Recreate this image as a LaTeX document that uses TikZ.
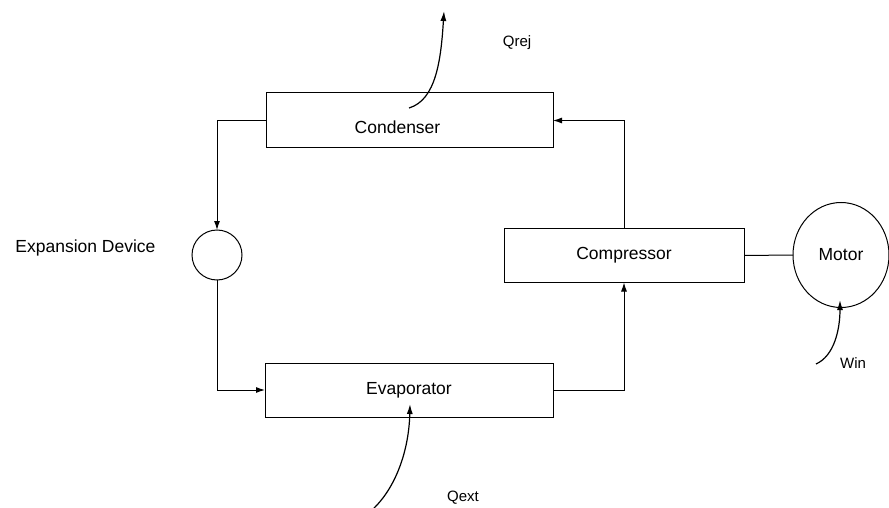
\documentclass[tikz,border=0pt]{standalone}
\usepackage{fontspec}
\setmainfont{Liberation Sans}
\usetikzlibrary{arrows.meta,shapes.geometric}
\begin{document}
\begin{tikzpicture}[x=1pt,y=-1pt,
  box/.style={draw,line width=1pt,rectangle,inner sep=0pt,outer sep=0pt},
  big/.style={font=\fontsize{17.5}{20}\selectfont},
  small/.style={font=\fontsize{15}{17}\selectfont},
  flow/.style={line width=1pt,-{Latex[length=9pt,width=6pt]}},
  heat/.style={line width=1.2pt,-{Latex[length=10pt,width=6pt]}}]
\useasboundingbox (0,0) rectangle (889,508);
\node[box,minimum width=287pt,minimum height=55pt,
  label={[big,xshift=-12pt,yshift=-7pt]center:Condenser}] (cond) at (409.5,120.5) {};
\node[box,minimum width=288pt,minimum height=54pt,big] (evap) at (409,390) {Evaporator};
\node[box,minimum width=240pt,minimum height=54pt,big] (comp) at (624,255.5) {Compressor};
\node[draw,line width=1pt,circle,minimum size=50pt,inner sep=0pt,outer sep=0pt] (exp) at (217,255) {};
\node[draw,line width=1pt,ellipse,minimum width=96pt,minimum height=105pt,inner sep=0pt,outer sep=0pt,big] (motor) at (841,255) {Motor};
\node[big,anchor=east] (explabel) at (159,248) {Expansion Device};
\node[small] (qrej) at (517,43) {Qrej};
\node[small] (qext) at (463,498) {Qext};
\node[small] (win) at (853,363) {Win};
\draw[flow] (cond.west) -| (exp.north);
\draw[flow] (exp.south) |- (evap.west);
\draw[flow] (evap.east) -| (comp.south);
\draw[flow] (comp.north) |- (cond.east);
\draw[line width=1pt] (comp.east) -- (motor.west);
\coordinate (qrs) at (409,108);
\coordinate (qre) at (444,11);
\draw[heat] (qrs) .. controls (436,100) and (441,60) .. (qre);
\coordinate (qes) at (372,510);
\coordinate (qee) at (410,404);
\draw[heat] (qes) .. controls (396,488) and (409,450) .. (qee);
\coordinate (wis) at (816,364);
\coordinate (wie) at (840,300);
\draw[heat] (wis) .. controls (834,356) and (840,330) .. (wie);
\end{tikzpicture}
\end{document}
